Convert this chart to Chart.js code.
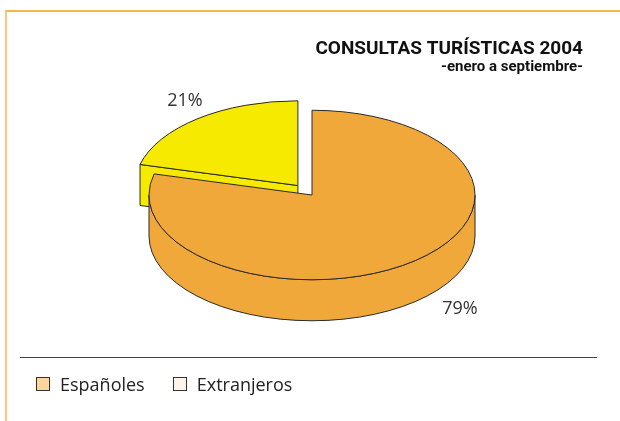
<!DOCTYPE html>
<html>
<head>
<meta charset="utf-8">
<script src="https://cdn.jsdelivr.net/npm/chart.js@4.4.1/dist/chart.umd.min.js"></script>
<style>
    html, body { margin: 0; padding: 0; background: #fff; }
    #wrap { position: relative; width: 620px; height: 421px; overflow: hidden; }
    #frame { position: absolute; left: 5px; top: 10px; right: -4px; bottom: -4px;
             border-top: 2px solid #f5b556; border-left: 2px solid #fdc877; }
    #chart { position: absolute; left: 0; top: 0; }
    #rule { position: absolute; left: 20px; top: 357px; width: 577px; border-top: 1px solid #444; }
    #legend { position: absolute; left: 36px; top: 372px; display: flex;
              font-family: "Open Sans", "Noto Sans", sans-serif; font-size: 18px; color: #222; }
    .item { display: flex; align-items: center; margin-right: 28px; }
    .box { width: 12px; height: 12px; border: 1px solid #333; margin-right: 10px; }
</style>
</head>
<body>
<div id="wrap">
    <div id="frame"></div>
    <canvas id="chart" width="620" height="421"></canvas>
    <div id="rule"></div>
    <div id="legend"></div>
</div>
<script>
// data
const categories = ['Españoles', 'Extranjeros'];
const shares = [79, 21];
const shareLabels = ['79%', '21%'];
const sliceColors = ['#f0a83a', '#f5ea00'];
const legendColors = ['#fdd59b', '#fff5ee'];

// draws the pie as a tilted disc with some thickness, using the arc elements
const pie3d = {
    id: 'pie3d',
    beforeDatasetDraw: function (chart, args, opts) {
        const ctx = chart.ctx;
        const arcs = args.meta.data;
        const tilt = opts.tilt;
        const depth = opts.depth;

        const slices = arcs.map(function (arc, i) {
            const p = arc.getProps(['x', 'y', 'startAngle', 'endAngle', 'outerRadius'], true);
            const mid = (p.startAngle + p.endAngle) / 2;
            const off = arc.options.offset || 0;
            return {
                index: i,
                start: p.startAngle,
                end: p.endAngle,
                mid: mid,
                r: p.outerRadius,
                cx: p.x + Math.cos(mid) * off,
                cy: p.y + Math.sin(mid) * off * tilt,
                fill: arc.options.backgroundColor,
                stroke: arc.options.borderColor,
                lw: arc.options.borderWidth
            };
        });

        // back slices first
        const order = slices.slice().sort(function (a, b) {
            return Math.sin(a.mid) - Math.sin(b.mid);
        });

        ctx.save();
        ctx.lineJoin = 'round';
        order.forEach(function (s) {
            const ry = s.r * tilt;
            ctx.fillStyle = s.fill;
            ctx.strokeStyle = s.stroke;
            ctx.lineWidth = s.lw;

            // radial faces that look towards the viewer
            const faces = [];
            if (Math.cos(s.start) < -1e-6) faces.push(s.start);
            if (Math.cos(s.end) > 1e-6) faces.push(s.end);
            faces.forEach(function (a) {
                const px = s.cx + Math.cos(a) * s.r;
                const py = s.cy + Math.sin(a) * ry;
                ctx.beginPath();
                ctx.moveTo(s.cx, s.cy);
                ctx.lineTo(px, py);
                ctx.lineTo(px, py + depth);
                ctx.lineTo(s.cx, s.cy + depth);
                ctx.closePath();
                ctx.fill();
                ctx.stroke();
            });

            // outer wall, front half only
            for (let k = -1; k <= 1; k++) {
                const a = Math.max(s.start, k * 2 * Math.PI);
                const b = Math.min(s.end, k * 2 * Math.PI + Math.PI);
                if (b - a <= 1e-6) continue;
                ctx.beginPath();
                ctx.ellipse(s.cx, s.cy, s.r, ry, 0, a, b, false);
                ctx.lineTo(s.cx + Math.cos(b) * s.r, s.cy + Math.sin(b) * ry + depth);
                ctx.ellipse(s.cx, s.cy + depth, s.r, ry, 0, b, a, true);
                ctx.closePath();
                ctx.fill();
                ctx.stroke();
            }

            // top face
            ctx.beginPath();
            ctx.moveTo(s.cx, s.cy);
            ctx.ellipse(s.cx, s.cy, s.r, ry, 0, s.start, s.end, false);
            ctx.closePath();
            ctx.fill();
            ctx.stroke();
        });

        // percentage labels
        ctx.font = opts.labelFont;
        ctx.fillStyle = opts.labelColor;
        ctx.textAlign = 'center';
        ctx.textBaseline = 'middle';
        slices.forEach(function (s) {
            let x = s.cx + Math.cos(s.mid) * s.r;
            let y = s.cy + Math.sin(s.mid) * s.r * tilt;
            if (Math.sin(s.mid) > 0) y += depth;
            const shift = opts.labelShift[s.index];
            ctx.fillText(shareLabels[s.index], x + shift[0], y + shift[1]);
        });
        ctx.restore();
        return false;
    }
};

const ctx = document.getElementById('chart').getContext('2d');

new Chart(ctx, {
    type: 'pie',
    data: {
        labels: categories,
        datasets: [{
            data: shares,
            backgroundColor: sliceColors,
            borderColor: '#2a2a2a',
            borderWidth: 1,
            offset: [0, 23]
        }]
    },
    options: {
        responsive: false,
        animation: false,
        radius: 163,
        layout: { padding: { left: 41, right: 37, top: 0, bottom: 106 } },
        plugins: {
            legend: { display: false },
            tooltip: { enabled: false },
            title: {
                display: true,
                text: 'CONSULTAS TURÍSTICAS 2004',
                align: 'end',
                color: '#111',
                font: { family: 'Roboto, sans-serif', size: 19, weight: 'bold', lineHeight: 1 },
                padding: { top: 40, bottom: 0 }
            },
            subtitle: {
                display: true,
                text: '-enero a septiembre-',
                align: 'end',
                color: '#111',
                font: { family: 'Roboto, sans-serif', size: 15, weight: 'bold', lineHeight: 1 },
                padding: { top: 1, bottom: 0 }
            },
            pie3d: {
                tilt: 0.52,
                depth: 41,
                labelFont: '18px "Open Sans", "Noto Sans", sans-serif',
                labelColor: '#333',
                labelShift: [[48, 6], [-13, -18]]
            }
        }
    },
    plugins: [pie3d]
});

// html legend
const legend = document.getElementById('legend');
categories.forEach(function (name, i) {
    const item = document.createElement('div');
    item.className = 'item';
    const box = document.createElement('span');
    box.className = 'box';
    box.style.background = legendColors[i];
    const label = document.createElement('span');
    label.textContent = name;
    item.appendChild(box);
    item.appendChild(label);
    legend.appendChild(item);
});
</script>
</body>
</html>
